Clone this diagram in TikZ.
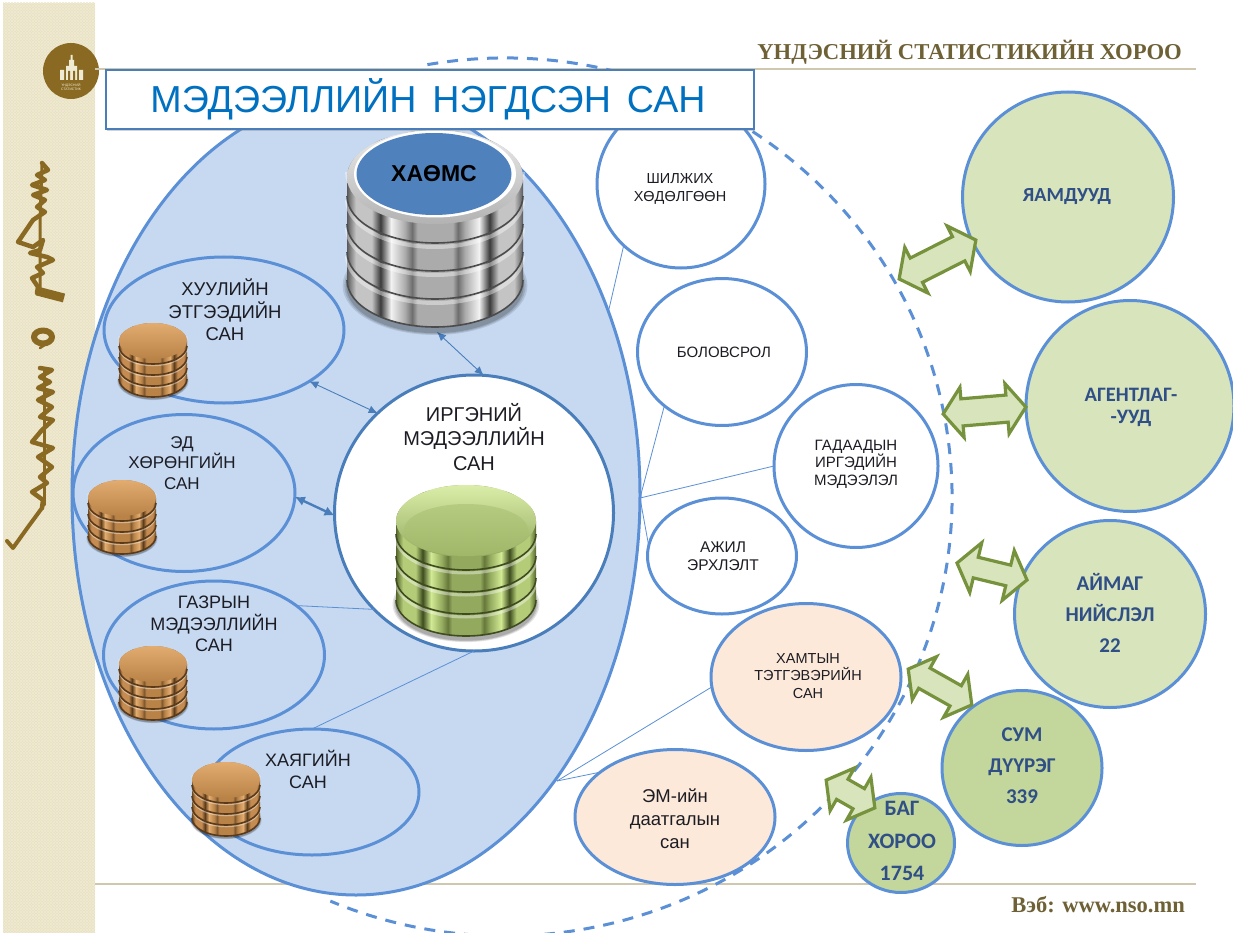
\documentclass[tikz,border=0pt]{standalone}
\usepackage{fontspec}
\setmainfont{Liberation Sans}
\newfontfamily\carl{Carlito}
\newfontfamily\srf{Liberation Serif}
\usetikzlibrary{shapes.geometric,shapes.arrows,shadows,patterns,arrows.meta}
\definecolor{edge}{HTML}{5B90D6}
\definecolor{edgedk}{HTML}{4A7EBB}
\definecolor{bigfill}{HTML}{C6D9F1}
\definecolor{peach}{HTML}{FDE9D9}
\definecolor{greenA}{HTML}{D8E4BC}
\definecolor{greenB}{HTML}{C3D69B}
\definecolor{olive}{HTML}{76923C}
\definecolor{navy}{HTML}{2F4F86}
\definecolor{hdr}{HTML}{6F6136}
\definecolor{strip}{HTML}{E9E2C3}
\definecolor{stripl}{HTML}{EFEAD2}
\definecolor{mong}{HTML}{8A6A22}
\definecolor{rule}{HTML}{CFC8AE}
\definecolor{txt}{HTML}{1C1C24}
\definecolor{wA}{HTML}{595959}\definecolor{wB}{HTML}{C4C4C4}\definecolor{wC}{HTML}{3A3A3A}\definecolor{wD}{HTML}{F2F2F2}\definecolor{wE}{HTML}{ABABAB}\definecolor{wF}{HTML}{6E6E6E}
\definecolor{gA}{HTML}{55662C}\definecolor{gB}{HTML}{B4CC78}\definecolor{gC}{HTML}{3E4C1E}\definecolor{gD}{HTML}{D2EA94}\definecolor{gE}{HTML}{93A95E}\definecolor{gF}{HTML}{66783A}
\definecolor{oA}{HTML}{6E4A22}\definecolor{oB}{HTML}{C48C52}\definecolor{oC}{HTML}{5A3A18}\definecolor{oD}{HTML}{E2AC70}\definecolor{oE}{HTML}{B98348}\definecolor{oF}{HTML}{7F5830}
\newcommand\bandshade[7]{\pgfdeclarehorizontalshading{#1}{100bp}{color(0bp)=(#2); color(25bp)=(#2); color(27.5bp)=(#3); color(32bp)=(#3); color(34.5bp)=(#4); color(37.5bp)=(#5); color(41.5bp)=(#6); color(43.5bp)=(#7); color(45bp)=(#6); color(55bp)=(#6); color(56.5bp)=(#7); color(58.5bp)=(#6); color(62.5bp)=(#5); color(65.5bp)=(#4); color(68bp)=(#3); color(72.5bp)=(#3); color(75bp)=(#2); color(100bp)=(#2)}}
\bandshade{grayband}{wA}{wB}{wC}{wD}{wE}{wF}
\bandshade{greenband}{gA}{gB}{gC}{gD}{gE}{gF}
\bandshade{orangeband}{oA}{oB}{oC}{oD}{oE}{oF}
% #1 cx, #2 cy of top ellipse, #3 rx, #4 ry, #5 side height, #6 disc step, #7 band shading, #8 rim colour, #9 light-arc width
\newcommand\dbstack[9]{%
  \pgfmathsetmacro\sy{#2+3*#6+#5+#4*0.12}
  \foreach \k/\o in {1.05/.1,1.03/.12,1.01/.15}{
    \fill[black,opacity=\o] (#1,\sy) ellipse [x radius=\k*#3 pt,y radius=\k*#4 pt];}
  \foreach \i in {3,2,1,0}{
    \pgfmathsetmacro\yy{#2+\i*#6}
    \pgfmathsetmacro\yb{\yy+#5}
    \pgfmathsetmacro\yl{\yb-#6+#9}
    \pgfmathsetmacro\xl{#1-#3}
    \pgfmathsetmacro\xr{#1+#3}
    \path[shading=#7] (\xl,\yy) -- (\xl,\yb) arc[start angle=180,end angle=360,x radius=#3 pt,y radius=#4 pt] -- (\xr,\yy) arc[start angle=0,end angle=180,x radius=#3 pt,y radius=#4 pt] -- cycle;
    \draw[white,opacity=.4,line width=#9 pt] (\xl,\yl) arc[start angle=180,end angle=360,x radius=#3 pt,y radius=#4 pt];
    \draw[#8,line width=1.6pt] (\xl,\yb) arc[start angle=180,end angle=360,x radius=#3 pt,y radius=#4 pt];
  }}
\tikzset{
  ell/.style={ellipse,draw=edge,line width=3pt,inner sep=0pt,outer sep=0pt,align=center},
  lbl/.style={inner sep=0pt,align=center,text=txt},
  greenlbl/.style={inner sep=0pt,align=center,text=navy},
  dbl/.style={double arrow,draw=olive,fill=greenA,line width=3.2pt,inner xsep=0pt,outer sep=0pt,double arrow tip angle=106,miter limit=10},
  thin link/.style={draw=edge,line width=.8pt},
  twoway/.style={draw=edgedk,line width=.9pt,{Latex[length=9pt,width=8pt]}-{Latex[length=9pt,width=8pt]}},
  twowaybold/.style={draw=edgedk,line width=2.4pt,{Latex[length=10pt,width=10pt]}-{Latex[length=10pt,width=10pt]}},
  mongstroke/.style={draw=mong,line cap=round,line join=round}
}
\begin{document}
\begin{tikzpicture}[x=1pt,y=-1pt]
\path[use as bounding box,fill=white] (0,0) rectangle (1233,933);
% left ornamental strip
\fill[strip] (3,3) rectangle (95,933);
\fill[pattern=north east lines,pattern color=stripl] (3,3) rectangle (95,933);
\fill[pattern=north west lines,pattern color=stripl] (3,3) rectangle (95,933);
% emblem
\node[circle,fill=mong,minimum size=56pt,inner sep=0pt] (logo) at (71,71) {};
\fill[stripl] (66,66) rectangle (77,80) (69,60) rectangle (74,66) (70.5,55) rectangle (72.5,60) (60,70) rectangle (64,80) (79,70) rectangle (83,80);
\fill[mong] (68,71) rectangle (70,80) (73,71) rectangle (75,80);
\node[inner sep=0pt,text=stripl,align=center,font=\fontsize{3.4}{4}\selectfont] (logotext) at (71,87) {ҮНДЭСНИЙ\\СТАТИСТИК};
% vertical script ornament
\draw[mongstroke,line width=4.5pt] (42,163) -- (48,170) -- (37,175) -- (45,180) -- (32,185) -- (47,190) -- (33,195) -- (45,200) -- (37,207) -- (45,212) -- (33,220) -- (18,242) -- (33,247) -- (43,240) -- (40,250) -- (30,253) -- (47,257) -- (53,260) -- (37,267) -- (43,273) -- (32,278) -- (38,287) -- (37,293);
\draw[mongstroke,line width=3pt] (42,165) -- (40,220) -- (40,290);
\draw[mongstroke,line width=9pt,line cap=butt] (37,291) -- (64,298);
\draw[mongstroke,line width=6pt] (43,337) ellipse [x radius=9pt,y radius=6.5pt];
\draw[mongstroke,line width=2.5pt] (49,342) -- (40,348);
\draw[mongstroke,line width=4.5pt] (40,368) -- (52,370) -- (40,377) -- (50,382) -- (38,388) -- (53,392) -- (38,400) -- (52,407) -- (40,417) -- (53,420) -- (42,430) -- (32,442) -- (53,448) -- (38,457) -- (52,467) -- (40,477) -- (47,483) -- (32,492) -- (43,500) -- (42,508);
\draw[mongstroke,line width=3pt] (44,370) -- (44,505);
\draw[mongstroke,line width=4pt] (42,508) -- (28,527) -- (13,548) -- (7,541);
\draw[rule,line width=1.5pt] (95,69) -- (1196,69);
\draw[rule,line width=1.5pt] (95,884) -- (1196,884);
\node[inner sep=0pt,text=hdr,anchor=east,font=\srf\bfseries\fontsize{22.7}{26}\selectfont] (heading) at (1182,52) {ҮНДЭСНИЙ СТАТИСТИКИЙН ХОРОО};
\node[inner sep=0pt,text=hdr,anchor=east,font=\srf\bfseries\fontsize{22.5}{24}\selectfont] (web) at (1185,905) {Вэб: www.nso.mn};
% dashed outer ring
\draw[edge,line width=3pt,dash pattern=on 11pt off 9pt] (505,497) ++(100:447pt and 439pt) arc[start angle=100,end angle=-113,x radius=447pt,y radius=439pt];
% big ellipse
\node[ell,fill=bigfill,minimum width=568pt,minimum height=800pt] (big) at (356,495) {};
% satellite circles
\node[ell,fill=white,minimum width=168pt,minimum height=168pt] (shil) at (681,184) {};
\node[ell,fill=white,minimum width=169pt,minimum height=147pt] (bol) at (722,352) {};
\node[ell,fill=white,minimum width=164pt,minimum height=163pt] (gad) at (856,466) {};
\node[ell,fill=white,minimum width=149pt,minimum height=116pt] (azh) at (722,556) {};
\node[ell,fill=peach,minimum width=190pt,minimum height=147pt] (kham) at (806,677) {};
\node[ell,fill=peach,minimum width=200pt,minimum height=135pt] (em) at (675,817) {};
% inner ellipses
\node[ell,fill=bigfill,minimum width=240pt,minimum height=146pt] (huul) at (224,330) {};
\node[ell,fill=bigfill,minimum width=222pt,minimum height=157pt] (ed) at (184,493) {};
\node[ell,fill=bigfill,minimum width=221pt,minimum height=148pt] (gaz) at (214,655) {};
\node[ell,fill=bigfill,minimum width=214pt,minimum height=126pt] (khay) at (312,792) {};
\node[ell,fill=white,draw=edgedk,minimum width=279pt,minimum height=276pt] (irg) at (474,513) {};
% outer green circles
\node[ell,fill=greenA,minimum width=211pt,minimum height=210pt] (yam) at (1068,197) {};
\node[ell,fill=greenA,minimum width=208pt,minimum height=211pt] (agn) at (1130,406) {};
\node[ell,fill=greenA,minimum width=191pt,minimum height=187pt] (aim) at (1110,614) {};
\node[ell,fill=greenB,minimum width=160pt,minimum height=155pt] (sum) at (1022,768) {};
\node[ell,fill=greenB,minimum width=107pt,minimum height=99pt] (bag) at (901,843) {};
% thin links
\coordinate (hubA) at (640,498);
\coordinate (hubB) at (557,781);
\coordinate (graybase) at (437,332);
\draw[thin link] (big.36) -- (shil.227);
\draw[thin link] (hubA) -- (bol.223);
\draw[thin link] (hubA) -- (gad.180);
\draw[thin link] (hubA) -- (azh.172);
\draw[thin link] (hubB) -- (kham.186);
\draw[thin link] (hubB) -- (em.149);
\draw[thin link] (gaz.31) -- (irg.224);
\draw[thin link] (khay.90) -- (irg.-90);
\draw[twoway] (huul.-31) -- (irg.134);
\draw[twoway] (graybase) -- (irg.86);
\draw[twowaybold] (ed.-2) -- (irg.181);
% gray stack
\dbstack{435}{177}{88}{47}{19}{28}{grayband}{black!70}{4}
\shade[top color=black!8,bottom color=black!30] (435,177) ellipse [x radius=88pt,y radius=47pt];
\fill[white] (435,174) ellipse [x radius=81pt,y radius=43.5pt];
\node[ellipse,inner sep=0pt,outer sep=0pt,minimum width=155pt,minimum height=82pt,fill={rgb,255:red,79;green,129;blue,189},font=\bfseries\fontsize{23}{26}\selectfont] (xaoms) at (434,174) {ХАӨМС};
% green stack
\dbstack{466}{521}{70}{36}{13}{22}{greenband}{gC}{3}
\shade[top color=gD!80!white,bottom color=gE] (466,521) ellipse [x radius=70pt,y radius=36pt];
\fill[gE!65!gD,opacity=.6] (466,530) ellipse [x radius=62pt,y radius=26pt];
% orange stacks
\dbstack{153}{341}{34}{18}{5}{11}{orangeband}{oC}{1.5}
\shade[top color=oD,bottom color=oE] (153,341) ellipse [x radius=34pt,y radius=18pt];
\dbstack{122}{498}{34}{18}{5}{11}{orangeband}{oC}{1.5}
\shade[top color=oD,bottom color=oE] (122,498) ellipse [x radius=34pt,y radius=18pt];
\dbstack{153}{664}{34}{18}{5}{11}{orangeband}{oC}{1.5}
\shade[top color=oD,bottom color=oE] (153,664) ellipse [x radius=34pt,y radius=18pt];
\dbstack{226}{780}{34}{18}{5}{11}{orangeband}{oC}{1.5}
\shade[top color=oD,bottom color=oE] (226,780) ellipse [x radius=34pt,y radius=18pt];
% labels
\node[lbl,font=\fontsize{18.5}{22.5}\selectfont] (t1) at (225,310) {ХУУЛИЙН\\ЭТГЭЭДИЙН\\САН};
\node[lbl,font=\fontsize{17}{20.5}\selectfont] (t2) at (182,463) {ЭД\\ХӨРӨНГИЙН\\САН};
\node[lbl,font=\fontsize{18}{21.5}\selectfont] (t3) at (214,624) {ГАЗРЫН\\МЭДЭЭЛЛИЙН\\САН};
\node[lbl,font=\fontsize{18}{22}\selectfont] (t4) at (308,769) {ХАЯГИЙН\\САН};
\node[lbl,font=\fontsize{20}{24.5}\selectfont] (t5) at (474,437) {ИРГЭНИЙ\\МЭДЭЭЛЛИЙН\\САН};
\node[lbl,font=\fontsize{14.5}{18}\selectfont] (t6) at (680,189) {ШИЛЖИХ\\ХӨДӨЛГӨӨН};
\node[lbl,font=\fontsize{15}{17}\selectfont] (t7) at (724,352) {БОЛОВСРОЛ};
\node[lbl,font=\fontsize{15}{17.5}\selectfont] (t8) at (856,464) {ГАДААДЫН\\ИРГЭДИЙН\\МЭДЭЭЛЭЛ};
\node[lbl,font=\fontsize{15.5}{18}\selectfont] (t9) at (723,556) {АЖИЛ\\ЭРХЛЭЛТ};
\node[lbl,font=\fontsize{14.5}{17.5}\selectfont] (t10) at (808,676) {ХАМТЫН\\ТЭТГЭВЭРИЙН\\САН};
\node[lbl,font=\fontsize{18.5}{23}\selectfont] (t11) at (675,819) {ЭМ-ийн\\даатгалын\\сан};
\node[greenlbl,font=\carl\bfseries\fontsize{20}{22}\selectfont] (t12) at (1067,197) {ЯАМДУУД};
\node[greenlbl,font=\carl\bfseries\fontsize{20.5}{22}\selectfont] (t13) at (1131,407) {АГЕНТЛАГ-\\-УУД};
\node[greenlbl,font=\carl\bfseries\fontsize{21}{31}\selectfont] (t14) at (1110,613) {АЙМАГ\\НИЙСЛЭЛ\\22};
\node[greenlbl,font=\carl\bfseries\fontsize{21}{31}\selectfont] (t15) at (1022,766) {СУМ\\ДҮҮРЭГ\\339};
\node[greenlbl,font=\carl\bfseries\fontsize{22}{32.5}\selectfont] (t16) at (902,841) {БАГ\\ХОРОО\\1754};
% block arrows
\node[dbl,inner ysep=12pt,minimum height=86pt,minimum width=48pt,double arrow head extend=12pt,rotate=26.9] (ar1) at (937.5,259.5) {};
\node[dbl,inner ysep=12pt,minimum height=83pt,minimum width=47pt,double arrow head extend=11.5pt,rotate=4.8] (ar2) at (984.5,410.5) {};
\node[dbl,inner ysep=9pt,minimum height=72pt,minimum width=48pt,double arrow head extend=15pt,rotate=-13.6] (ar3) at (992,571.5) {};
\node[dbl,inner ysep=10pt,minimum height=73pt,minimum width=46pt,double arrow head extend=13pt,rotate=-29.4] (ar4) at (940,687) {};
\node[dbl,inner ysep=10pt,minimum height=56pt,minimum width=46pt,double arrow head extend=13pt,rotate=-29.7] (ar5) at (850.5,794) {};
% title
\node[draw=edgedk,fill=white,line width=1.2pt,inner sep=0pt,outer sep=0pt,minimum width=648pt,minimum height=59pt,drop shadow={shadow xshift=1pt,shadow yshift=-2.5pt,opacity=.35}] (titlebox) at (430,99.5) {};
\node[inner sep=0pt,text={rgb,255:red,0;green,112;blue,192},font=\fontsize{37.6}{44}\selectfont] (title) at (428,99) {МЭДЭЭЛЛИЙН\hspace{.15em} НЭГДСЭН\hspace{.15em} САН};
\end{tikzpicture}
\end{document}
